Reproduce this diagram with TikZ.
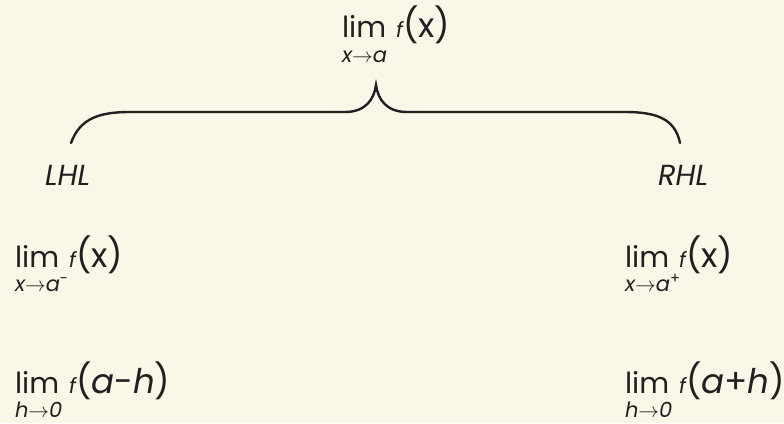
\documentclass[tikz,border=0pt]{standalone}
\usepackage{fontspec}
\setmainfont{Poppins}
\definecolor{bgc}{HTML}{FAF6E8}
\definecolor{ink}{HTML}{231F20}
\newcommand{\bigtxt}{\fontsize{29}{29}\selectfont}
\newcommand{\argtxt}{\fontsize{34}{34}\selectfont}
\newcommand{\ftxt}{\fontsize{21}{21}\selectfont\itshape}
\newcommand{\subtxt}{\fontsize{21}{21}\selectfont\itshape}
\newcommand{\arr}{$\rightarrow$}
\newcommand{\limpart}{lim\hspace{10pt}{\ftxt f}}
\tikzset{
  main/.style={anchor=base west, inner sep=0pt, outer sep=0pt, text=ink, font=\bigtxt},
  sub/.style={anchor=base west, inner sep=0pt, outer sep=0pt, text=ink, font=\subtxt, text height=13pt, text depth=0pt},
  lbl/.style={anchor=base west, inner sep=0pt, outer sep=0pt, text=ink, font=\bigtxt\itshape},
  bracel/.style={draw=ink, line width=2.4pt, line cap=round}
}
\begin{document}
\begin{tikzpicture}[x=1pt,y=-1pt]
\fill[bgc] (0,0) rectangle (784,423);
\useasboundingbox (0,0) rectangle (784,423);
% top
\node[main] (top) at (342,37) {\limpart{\argtxt(x)}};
\node[sub] (topsub) at (342,62) {x\arr a};
% labels
\node[lbl] (lhl) at (45,185) {LHL};
\node[lbl] (rhl) at (658,185) {RHL};
% middle row
\node[main] (ll1) at (15,267) {\limpart{\argtxt(x)}};
\node[sub] (ll1s) at (15,291) {x\arr a\textsuperscript{\upshape -}};
\node[main] (rl1) at (625,267) {\limpart{\argtxt(x)}};
\node[sub] (rl1s) at (625,291) {x\arr a\textsuperscript{\upshape +}};
% bottom row
\node[main] (ll2) at (15,393) {\limpart{\argtxt(\textit{a}-\textit{h})}};
\node[sub] (ll2s) at (15,417) {h\arr 0};
\node[main] (rl2) at (625,393) {\limpart{\argtxt(\textit{a}+\textit{h})}};
\node[sub] (rl2s) at (625,417) {h\arr 0};
% brace
\coordinate (bl) at (71,143);
\coordinate (bm) at (376,85);
\coordinate (br) at (680,143);
\draw[bracel] (bl) .. controls (80,118) and (100,112) .. (130,112) -- (345,112)
  .. controls (365,112) and (374,100) .. (bm)
  .. controls (378,100) and (387,112) .. (407,112) -- (625,112)
  .. controls (655,112) and (675,118) .. (br);
\end{tikzpicture}
\end{document}
